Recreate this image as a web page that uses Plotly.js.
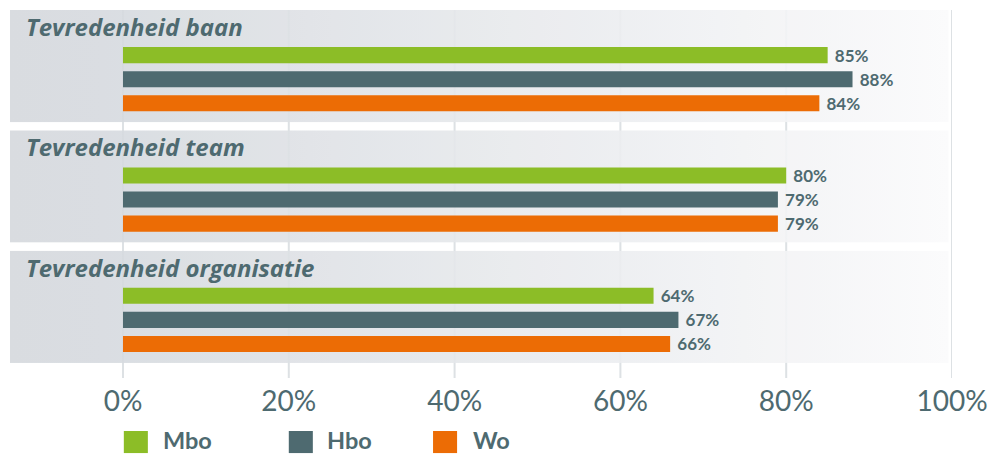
<!DOCTYPE html>
<html>
<head>
<meta charset="utf-8">
<script src="https://cdn.plot.ly/plotly-3.0.1.min.js"></script>
<style>html,body{margin:0;padding:0;background:#fff;}#chart{width:994px;height:454px;}</style>
</head>
<body>
<div id="chart"></div>
<script>
const categories = ["Tevredenheid baan", "Tevredenheid team", "Tevredenheid organisatie"];
const seriesNames = ["Mbo", "Hbo", "Wo"];
const mbo = [85, 80, 64];
const hbo = [88, 79, 67];
const wo = [84, 79, 66];
const tickValues = [0, 20, 40, 60, 80, 100];
const tickLabels = ["0%", "20%", "40%", "60%", "80%", "100%"];

const colors = ["#8cbd27", "#4e6a70", "#ec6c05"];
const textColor = "#4e6a70";
const FONT = "Lato, 'Open Sans', sans-serif";
const TITLE_FONT = "'Open Sans', Lato, sans-serif";
const seriesValues = [mbo, hbo, wo];

const xMin = -13.63, xMax = 100;
const idx = categories.map((c, i) => i);

const traces = seriesNames.map((name, s) => ({
  type: "bar",
  orientation: "h",
  name: name,
  y: idx,
  x: seriesValues[s],
  marker: {color: colors[s]},
  text: seriesValues[s].map(v => " " + v + "%"),
  texttemplate: "%{text}",
  textposition: "outside",
  constraintext: "none",
  cliponaxis: false,
  textfont: {family: FONT, size: 17, color: textColor, weight: "bold"},
  hoverinfo: "skip",
  showlegend: false
}));

const gradSvg = '<svg xmlns="http://www.w3.org/2000/svg" width="100" height="10" preserveAspectRatio="none" viewBox="0 0 100 10">' +
  '<defs><linearGradient id="g" x1="0" y1="0" x2="1" y2="0">' +
  '<stop offset="0" stop-color="#d5d9dd"/><stop offset="0.1" stop-color="#d6dadf"/><stop offset="1" stop-color="#fbfbfc"/>' +
  '</linearGradient></defs><rect width="100" height="10" fill="url(#g)"/></svg>';
const gradSrc = "data:image/svg+xml;charset=utf-8," + encodeURIComponent(gradSvg);

const images = idx.map(i => ({
  source: gradSrc, xref: "x", yref: "y",
  x: xMin, y: i - 0.575, sizex: xMax - xMin - 0.4, sizey: 0.933,
  xanchor: "left", yanchor: "top", sizing: "stretch", layer: "below", opacity: 0.9
}));

const annotations = categories.map((c, i) => ({
  text: c, xref: "x", yref: "y", x: xMin + 1.7, y: i - 0.437,
  xanchor: "left", yanchor: "middle", showarrow: false,
  font: {family: TITLE_FONT, size: 24, color: textColor, weight: "bold", style: "italic"}
}));

// gridlines at the tick values, drawn beneath the panels
const shapes = tickValues.map(v => ({
  type: "line", xref: "x", yref: "paper", x0: v, x1: v, y0: 0, y1: 1,
  line: {color: "#dde1e4", width: 2}, layer: "below"
}));

// custom legend built from series names
const legendSquareX = [0.1, 20.0, 37.4];
const legendTextX = [4.6, 24.4, 42.0];
seriesNames.forEach((n, s) => {
  shapes.push({type: "rect", xref: "x", yref: "paper",
    x0: legendSquareX[s], x1: legendSquareX[s] + 2.9, y0: -0.144, y1: -0.204,
    fillcolor: colors[s], line: {width: 0}});
  annotations.push({text: n, xref: "x", yref: "paper", x: legendTextX[s], y: -0.168,
    xanchor: "left", yanchor: "middle", showarrow: false,
    font: {family: FONT, size: 23.5, color: textColor, weight: "bold"}});
});

const layout = {
  width: 994, height: 454,
  margin: {l: 10, r: 42, t: 10, b: 76},
  paper_bgcolor: "#ffffff", plot_bgcolor: "rgba(0,0,0,0)",
  barmode: "group", bargap: 0.4, bargroupgap: 0.333,
  showlegend: false,
  xaxis: {range: [xMin, xMax], tickvals: tickValues, ticktext: tickLabels,
    showgrid: false, zeroline: false, ticklabelstandoff: 4,
    ticks: "", tickfont: {family: FONT, size: 28, color: textColor},
    fixedrange: true, showline: false},
  yaxis: {range: [2.483, -0.575], showticklabels: false, showgrid: false,
    zeroline: false, fixedrange: true},
  images: images,
  annotations: annotations,
  shapes: shapes
};

Plotly.newPlot("chart", traces, layout, {displayModeBar: false, staticPlot: true});
</script>
</body>
</html>
